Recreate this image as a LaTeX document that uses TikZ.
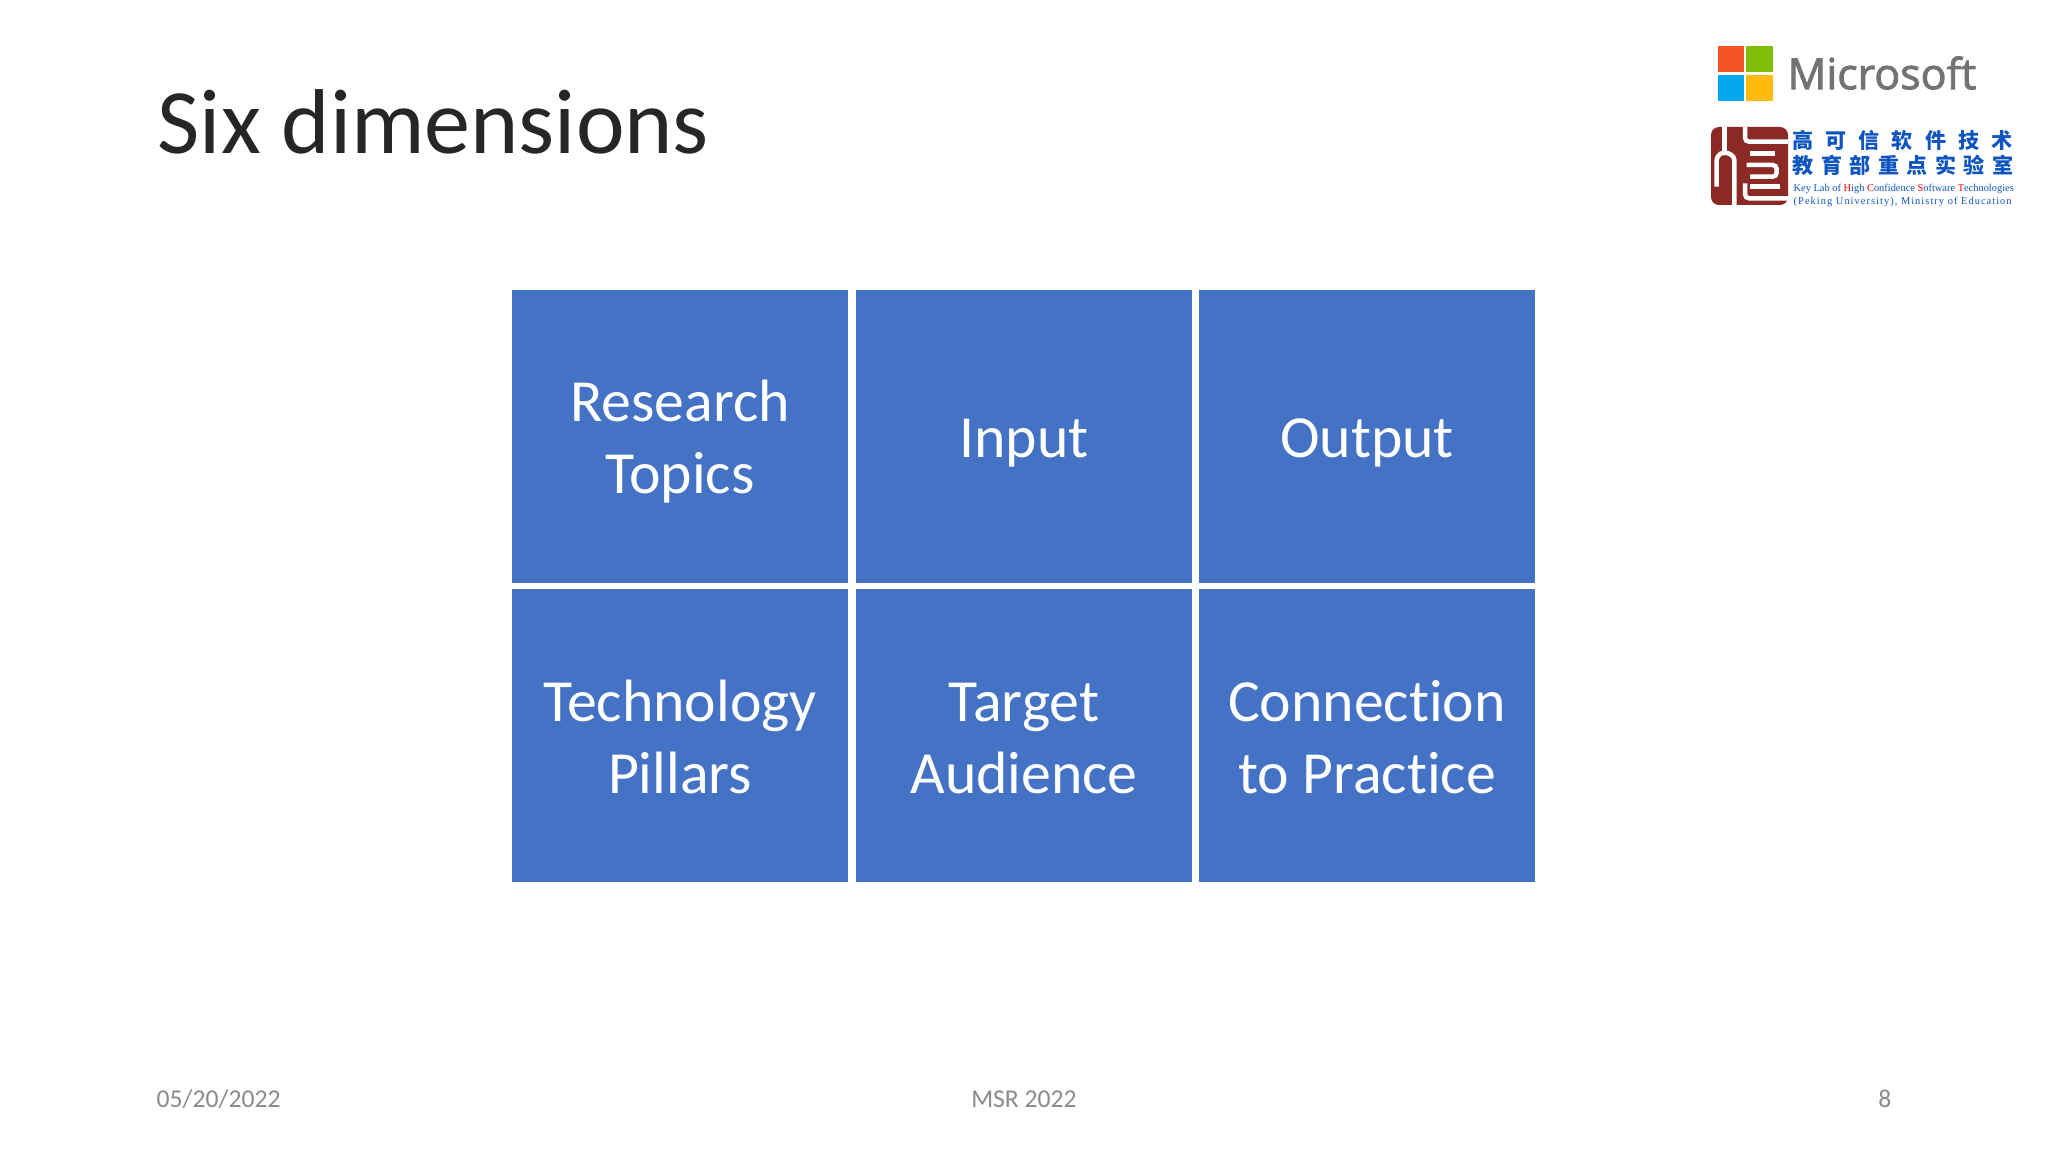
\documentclass[tikz,border=0pt]{standalone}
\usepackage{fontspec}
\setmainfont{Carlito}[Ligatures=NoCommon]
\newfontfamily\msfont[FakeBold=2]{Open Sans}
\newfontfamily\cjkfont{Noto Sans CJK SC}
\newfontfamily\labfont{Liberation Serif}
\usetikzlibrary{positioning}
\definecolor{cellblue}{HTML}{4472C4}
\definecolor{footgray}{HTML}{8B8B8B}
\definecolor{msgray}{HTML}{737373}
\definecolor{sealred}{HTML}{8B2A24}
\definecolor{labblue}{HTML}{0F55C0}
\tikzstyle{cell} = [rectangle, minimum width=3.36cm, minimum height=2.93cm, inner sep=0, outer sep=0, text centered, align=center, fill=cellblue, text=white, font=\fontsize{17}{20.5}\selectfont]
\tikzstyle{footer} = [inner sep=0, text=footgray, font=\fontsize{7.3}{9}\selectfont]
\tikzstyle{labcjk} = [anchor=west, inner sep=0, text=labblue, font=\cjkfont\bfseries\fontsize{6}{7}\selectfont]
\tikzstyle{sealstroke} = [white, line width=0.045cm, rounded corners=0.04cm]
\newcommand{\toprule}{\rule{0pt}{0.525cm}}
\newcommand{\lowrule}{\rule{0pt}{0.445cm}}

\begin{document}
\begin{tikzpicture}
	\useasboundingbox (0,0) rectangle (20.48,-11.52);
	\fill[white] (0,0) rectangle (20.48,-11.52);
	% title
	\node[anchor=west, inner sep=0, text=black!85, font=\fontsize{26.2}{30}\selectfont](title) at (1.57,-1.22){Six dimensions};
	% grid
	\node[cell, anchor=north west](research) at (5.12,-2.90){\toprule Research\\Topics};
	\node[cell, right=0.08cm of research](input){\toprule Input};
	\node[cell, right=0.07cm of input](output){\toprule Output};
	\node[cell, below=0.06cm of research](pillars){\lowrule Technology\\Pillars};
	\node[cell, below=0.06cm of input](audience){\lowrule Target\\Audience};
	\node[cell, below=0.06cm of output](practice){\lowrule Connection\\to Practice};
	% footer
	\node[footer, anchor=west](date) at (1.56,-10.99){05/20/2022};
	\node[footer](venue) at (10.24,-10.99){MSR 2022};
	\node[footer, anchor=east](page) at (18.92,-10.99){8};
	% microsoft logo
	\fill[fill={rgb,255:red,243;green,83;blue,37}] (17.18,-0.46) rectangle (17.44,-0.72);
	\fill[fill={rgb,255:red,129;green,188;blue,6}] (17.46,-0.46) rectangle (17.73,-0.72);
	\fill[fill={rgb,255:red,5;green,166;blue,240}] (17.18,-0.75) rectangle (17.44,-1.01);
	\fill[fill={rgb,255:red,255;green,186;blue,8}] (17.46,-0.75) rectangle (17.73,-1.01);
	\node[anchor=west, inner sep=0, text=msgray, font=\msfont\fontsize{12.2}{14}\selectfont](microsoft) at (17.87,-0.73){Microsoft};
	% lab logo
	\fill[sealred, rounded corners=0.08cm] (17.11,-1.27) rectangle (17.88,-2.05);
	\draw[sealstroke] (17.243,-1.27) -- (17.243,-1.517);
	\draw[sealstroke] (17.167,-1.867) -- (17.167,-1.56) -- (17.243,-1.517) -- (17.343,-1.56) -- (17.343,-2.05);
	\draw[sealstroke] (17.45,-1.27) -- (17.45,-1.417) -- (17.88,-1.417);
	\draw[sealstroke] (17.50,-1.533) -- (17.75,-1.533);
	\draw[sealstroke] (17.467,-1.65) -- (17.767,-1.65) -- (17.767,-1.767) -- (17.50,-1.767);
	\draw[sealstroke] (17.50,-1.867) -- (17.80,-1.867);
	\draw[sealstroke] (17.45,-1.833) -- (17.45,-1.983) -- (17.88,-1.983);
	\node[labcjk](labtop) at (17.92,-1.40){高\hspace{0.12cm}可\hspace{0.12cm}信\hspace{0.12cm}软\hspace{0.12cm}件\hspace{0.12cm}技\hspace{0.12cm}术};
	\node[labcjk](labbottom) at (17.92,-1.65){教\hspace{0.074cm}育\hspace{0.074cm}部\hspace{0.074cm}重\hspace{0.074cm}点\hspace{0.074cm}实\hspace{0.074cm}验\hspace{0.074cm}室};
	\node[anchor=west, inner sep=0, text=labblue, font=\labfont\fontsize{2.96}{3}\selectfont](labkey) at (17.93,-1.885){Key Lab of \textcolor{red}{H}igh \textcolor{red}{C}onfidence \textcolor{red}{S}oftware \textcolor{red}{T}echnologies};
	\node[anchor=west, inner sep=0, text=labblue, font=\labfont\addfontfeature{LetterSpace=10}\fontsize{2.96}{3}\selectfont](labpku) at (17.93,-2.015){(Peking University), Ministry of Education};
\end{tikzpicture}
\end{document}
